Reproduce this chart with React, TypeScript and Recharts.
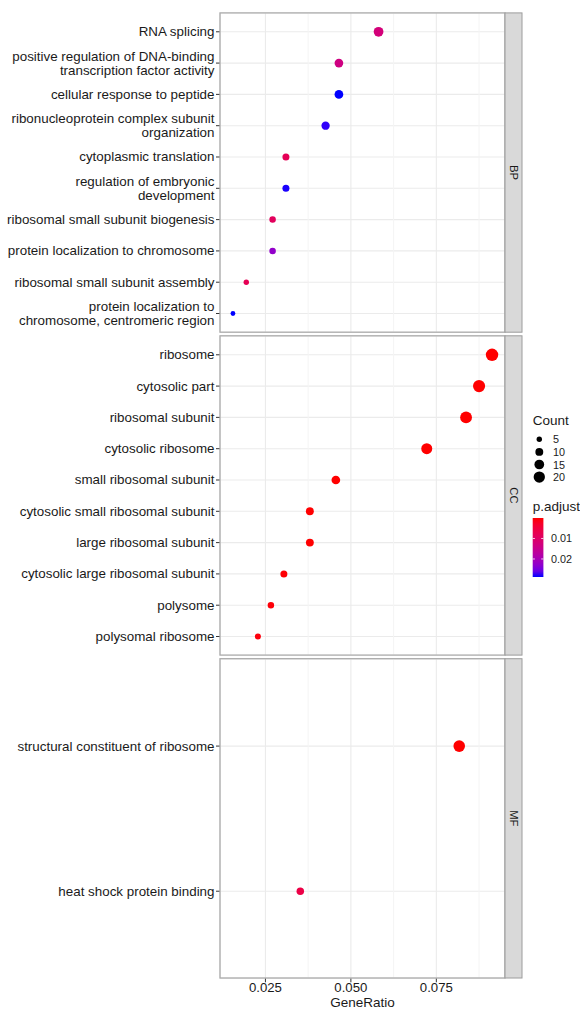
import React from 'react'
import {
  ScatterChart, Scatter, XAxis, YAxis, ZAxis, CartesianGrid, ReferenceLine, Cell,
} from 'recharts'

// ---- data ----
const BP_TERMS = [
  'RNA splicing',
  'positive regulation of DNA-binding\ntranscription factor activity',
  'cellular response to peptide',
  'ribonucleoprotein complex subunit\norganization',
  'cytoplasmic translation',
  'regulation of embryonic\ndevelopment',
  'ribosomal small subunit biogenesis',
  'protein localization to chromosome',
  'ribosomal small subunit assembly',
  'protein localization to\nchromosome, centromeric region',
]
const BP_RATIO = [0.0581, 0.0465, 0.0465, 0.0426, 0.031, 0.031, 0.0271, 0.0271, 0.0194, 0.0155]
const BP_COUNT = [15, 12, 12, 11, 8, 8, 7, 7, 5, 4]
const BP_PADJ = [0.0125, 0.0135, 0.0288, 0.0282, 0.008, 0.0286, 0.0088, 0.0225, 0.0078, 0.0288]

const CC_TERMS = [
  'ribosome',
  'cytosolic part',
  'ribosomal subunit',
  'cytosolic ribosome',
  'small ribosomal subunit',
  'cytosolic small ribosomal subunit',
  'large ribosomal subunit',
  'cytosolic large ribosomal subunit',
  'polysome',
  'polysomal ribosome',
]
const CC_RATIO = [0.0913, 0.0875, 0.0837, 0.0722, 0.0456, 0.038, 0.038, 0.0304, 0.0266, 0.0228]
const CC_COUNT = [24, 23, 22, 19, 12, 10, 10, 8, 7, 6]
const CC_PADJ = [1e-14, 2e-13, 1e-12, 3e-11, 2e-6, 4e-5, 5e-5, 2e-4, 4e-4, 6e-4]

const MF_TERMS = ['structural constituent of ribosome', 'heat shock protein binding']
const MF_RATIO = [0.0817, 0.0352]
const MF_COUNT = [21, 9]
const MF_PADJ = [1e-9, 0.006]

const X_TICKS = [0.025, 0.05, 0.075]
const X_MINOR = [0.0375, 0.0625, 0.0875]
const COUNT_BREAKS = [5, 10, 15, 20]
const PADJ_BREAKS = [0.01, 0.02]

// ---- layout ----
const W = 580
const H = 1009
const PLOT_L = 220
const PLOT_R = 505
const STRIP_W = 17
const PANEL_TOP = 12.9
const PANEL_H = 319.3
const PANEL_GAP = 3.6
const FONT = '"Liberation Sans", Arial, Helvetica, sans-serif'
const TEXT = '#1a1a1a'

// ---- scales ----
const allRatio = [...BP_RATIO, ...CC_RATIO, ...MF_RATIO]
const rLo = Math.min(...allRatio)
const rHi = Math.max(...allRatio)
const X_DOMAIN: [number, number] = [rLo - (rHi - rLo) * 0.05, rHi + (rHi - rLo) * 0.05]

const allCount = [...BP_COUNT, ...CC_COUNT, ...MF_COUNT]
const C_DOMAIN: [number, number] = [Math.min(...allCount), Math.max(...allCount)]
const AREA: [number, number] = [18, 121]
const radiusFor = (c: number) => {
  const t = (c - C_DOMAIN[0]) / (C_DOMAIN[1] - C_DOMAIN[0])
  return Math.sqrt((AREA[0] + t * (AREA[1] - AREA[0])) / Math.PI)
}

const allP = [...BP_PADJ, ...CC_PADJ, ...MF_PADJ]
const P_MIN = Math.min(...allP)
const P_MAX = Math.max(...allP)

// red -> blue in CIELAB, like ggplot's gradient
const lin = (c: number) => { c /= 255; return c <= 0.04045 ? c / 12.92 : Math.pow((c + 0.055) / 1.055, 2.4) }
const f = (t: number) => (t > 0.008856 ? Math.cbrt(t) : 7.787 * t + 16 / 116)
const finv = (t: number) => (t * t * t > 0.008856 ? t * t * t : (t - 16 / 116) / 7.787)
function toLab([r0, g0, b0]: number[]) {
  const r = lin(r0), g = lin(g0), b = lin(b0)
  const X = (0.4124 * r + 0.3576 * g + 0.1805 * b) / 0.95047
  const Y = 0.2126 * r + 0.7152 * g + 0.0722 * b
  const Z = (0.0193 * r + 0.1192 * g + 0.9505 * b) / 1.08883
  return [116 * f(Y) - 16, 500 * (f(X) - f(Y)), 200 * (f(Y) - f(Z))]
}
function fromLab([L, a, bb]: number[]) {
  const fy = (L + 16) / 116
  const X = 0.95047 * finv(fy + a / 500)
  const Y = finv(fy)
  const Z = 1.08883 * finv(fy - bb / 200)
  const rgb = [
    3.2406 * X - 1.5372 * Y - 0.4986 * Z,
    -0.9689 * X + 1.8758 * Y + 0.0415 * Z,
    0.0557 * X - 0.204 * Y + 1.057 * Z,
  ].map(c => {
    const v = c <= 0.0031308 ? 12.92 * c : 1.055 * Math.pow(c, 1 / 2.4) - 0.055
    return Math.round(Math.max(0, Math.min(1, v)) * 255)
  })
  return `rgb(${rgb[0]},${rgb[1]},${rgb[2]})`
}
const LAB_RED = toLab([255, 0, 0])
const LAB_BLUE = toLab([0, 0, 255])
const mix = (t: number) => fromLab(LAB_RED.map((v, i) => v + (LAB_BLUE[i] - v) * t))
const colorFor = (p: number) => mix(Math.max(0, Math.min(1, (p - P_MIN) / (P_MAX - P_MIN))))

type Row = { x: number; y: number; count: number; p: number }
const rowsOf = (ratio: number[], count: number[], padj: number[]): Row[] =>
  ratio.map((x, i) => ({ x, y: i, count: count[i], p: padj[i] }))

const PANELS = [
  { key: 'BP', terms: BP_TERMS, rows: rowsOf(BP_RATIO, BP_COUNT, BP_PADJ) },
  { key: 'CC', terms: CC_TERMS, rows: rowsOf(CC_RATIO, CC_COUNT, CC_PADJ) },
  { key: 'MF', terms: MF_TERMS, rows: rowsOf(MF_RATIO, MF_COUNT, MF_PADJ) },
]

function TermTick(props: any) {
  const { x, y, payload, terms } = props
  const lines: string[] = (terms[payload.value] ?? '').split('\n')
  return (
    <g>
      {lines.map((s, i) => (
        <text key={i} x={x} y={y + (i - (lines.length - 1) / 2) * 14} textAnchor="end"
          dominantBaseline="central" fontSize={13.4} fill={TEXT} fontFamily={FONT}>
          {s}
        </text>
      ))}
    </g>
  )
}

function Panel({ idx }: { idx: number }) {
  const panel = PANELS[idx]
  const n = panel.terms.length
  const last = idx === PANELS.length - 1
  const axisH = last ? 40 : 0
  return (
    <div style={{ position: 'absolute', left: 0, top: PANEL_TOP + idx * (PANEL_H + PANEL_GAP) }}>
      <ScatterChart width={PLOT_R} height={PANEL_H + axisH} margin={{ top: 0, right: 0, bottom: 0, left: 0 }}>
        <CartesianGrid stroke="#ebebeb" strokeWidth={1.1} />
        {X_MINOR.map(v => (
          <ReferenceLine key={v} x={v} stroke="#f4f4f4" strokeWidth={1} />
        ))}
        <XAxis type="number" dataKey="x" domain={X_DOMAIN} ticks={X_TICKS} allowDataOverflow
          hide={!last} height={axisH} tickSize={4} tickMargin={0}
          axisLine={false} tickLine={{ stroke: '#333' }}
          tick={{ fontSize: 13.2, fill: TEXT, fontFamily: FONT }}
          tickFormatter={(v: number) => v.toFixed(3)} />
        <YAxis type="number" dataKey="y" domain={[-0.6, n - 0.4]} reversed allowDataOverflow
          ticks={panel.terms.map((_, i) => i)} interval={0} width={PLOT_L}
          tickSize={4} tickMargin={1.5} axisLine={false} tickLine={{ stroke: '#333' }}
          tick={(p: any) => <TermTick {...p} terms={panel.terms} />} />
        <ZAxis type="number" dataKey="count" domain={C_DOMAIN} range={AREA} />
        <Scatter data={panel.rows} isAnimationActive={false}>
          {panel.rows.map((r, i) => (
            <Cell key={i} fill={colorFor(r.p)} />
          ))}
        </Scatter>
      </ScatterChart>
    </div>
  )
}

function Overlay() {
  const barX = 532.7, barY = 518, barW = 10.7, barH = 59
  const stops = Array.from({ length: 11 }, (_, i) => i / 10)
  const pY = (p: number) => barY + ((p - P_MIN) / (P_MAX - P_MIN)) * barH
  return (
    <svg width={W} height={H} style={{ position: 'absolute', left: 0, top: 0, pointerEvents: 'none' }}>
      <defs>
        <linearGradient id="padj" x1="0" y1="0" x2="0" y2="1">
          {stops.map(t => <stop key={t} offset={t} stopColor={mix(t)} />)}
        </linearGradient>
      </defs>
      {PANELS.map((p, i) => {
        const top = PANEL_TOP + i * (PANEL_H + PANEL_GAP)
        return (
          <g key={p.key}>
            <rect x={PLOT_L} y={top} width={PLOT_R - PLOT_L} height={PANEL_H}
              fill="none" stroke="#ababab" strokeWidth={1.3} />
            <rect x={PLOT_R} y={top} width={STRIP_W} height={PANEL_H}
              fill="#d9d9d9" stroke="#9c9c9c" strokeWidth={1} />
            <text transform={`translate(${PLOT_R + STRIP_W / 2},${top + PANEL_H / 2}) rotate(90)`}
              textAnchor="middle" dominantBaseline="central" fontSize={11.2} fill={TEXT} fontFamily={FONT}>
              {p.key}
            </text>
          </g>
        )
      })}
      <text x={(PLOT_L + PLOT_R) / 2} y={1002.5} textAnchor="middle" dominantBaseline="central"
        fontSize={13.5} fill={TEXT} fontFamily={FONT}>GeneRatio</text>

      <text x={532.7} y={420.7} dominantBaseline="central" fontSize={13.5} fill={TEXT} fontFamily={FONT}>Count</text>
      {COUNT_BREAKS.map((c, i) => (
        <g key={c}>
          <circle cx={539.3} cy={439.3 + i * 12.6} r={radiusFor(c)} fill="#000" />
          <text x={553} y={439.3 + i * 12.6} dominantBaseline="central" fontSize={10.8} fill={TEXT} fontFamily={FONT}>{c}</text>
        </g>
      ))}

      <text x={532.7} y={506} dominantBaseline="central" fontSize={13.5} fill={TEXT} fontFamily={FONT}>p.adjust</text>
      <rect x={barX} y={barY} width={barW} height={barH} fill="url(#padj)" />
      {PADJ_BREAKS.map(b => (
        <g key={b}>
          <line x1={barX} x2={barX + 2.2} y1={pY(b)} y2={pY(b)} stroke="#fff" strokeWidth={0.8} />
          <line x1={barX + barW - 2.2} x2={barX + barW} y1={pY(b)} y2={pY(b)} stroke="#fff" strokeWidth={0.8} />
          <text x={551} y={pY(b)} dominantBaseline="central" fontSize={10.8} fill={TEXT} fontFamily={FONT}>{b}</text>
        </g>
      ))}
    </svg>
  )
}

export default function App() {
  return (
    <div style={{ position: 'absolute', left: 0, top: 0, width: W, height: H, background: '#fff', fontFamily: FONT }}>
      {PANELS.map((_, i) => <Panel key={i} idx={i} />)}
      <Overlay />
    </div>
  )
}
